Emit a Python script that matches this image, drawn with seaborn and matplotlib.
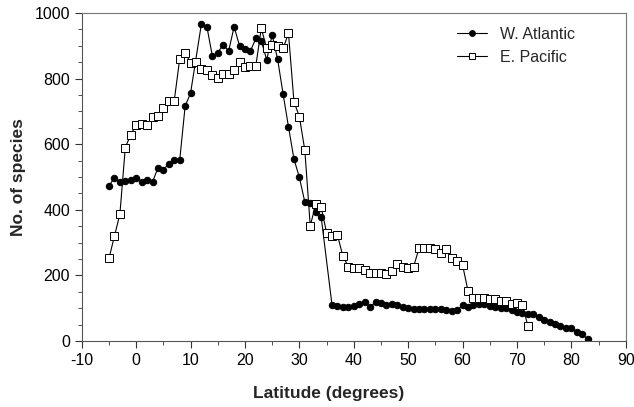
"""Species richness by latitude: W. Atlantic vs E. Pacific"""
import pandas as pd
import seaborn as sns
from matplotlib import pyplot as plt
from matplotlib.ticker import MultipleLocator

# W. Atlantic (filled circles)
atl_lat = [-5, -4, -3, -2, -1, 0, 1, 2, 3, 4, 5, 6, 7, 8, 9, 10,
           12, 13, 14, 15, 16, 17, 18, 19, 20, 21, 22, 23, 24, 25, 26,
           27, 28, 29, 30, 31, 32, 33, 34, 36, 37, 38, 39, 40, 41, 42,
           43, 44, 45, 46, 47, 48, 49, 50, 51, 52, 53, 54, 55, 56, 57,
           58, 59, 60, 61, 62, 63, 64, 65, 66, 67, 68, 69, 70, 71, 72,
           73, 74, 75, 76, 77, 78, 79, 80, 81, 82, 83]
atl_species = [473, 498, 485, 488, 490, 498, 485, 490, 485, 528, 523, 540,
               551, 551, 716, 756, 968, 958, 869, 879, 904, 884, 958, 900,
               889, 884, 923, 915, 857, 934, 859, 754, 653, 555, 499, 424,
               420, 394, 379, 110, 108, 105, 105, 108, 112, 120, 105, 118,
               117, 110, 112, 110, 105, 102, 97, 97, 97, 97, 97, 97, 95,
               92, 95, 109, 103, 109, 113, 113, 107, 103, 100, 100, 95, 89,
               86, 84, 81, 72, 64, 59, 51, 46, 39, 39, 27, 21, 6]

# E. Pacific (open squares)
pac_lat = list(range(-5, 73))
pac_species = [252, 320, 386, 590, 629, 658, 662, 660, 684, 687, 709, 733,
               733, 860, 879, 848, 851, 829, 826, 811, 802, 814, 814, 826,
               852, 834, 840, 840, 953, 892, 904, 899, 892, 938, 730, 684,
               582, 351, 417, 410, 330, 321, 323, 259, 227, 224, 224, 218,
               206, 206, 206, 203, 214, 235, 227, 222, 227, 283, 283, 283,
               280, 269, 280, 252, 245, 232, 153, 130, 130, 130, 127, 127,
               122, 122, 113, 117, 109, 47]

atl = pd.DataFrame({"lat": atl_lat, "species": atl_species})
pac = pd.DataFrame({"lat": pac_lat, "species": pac_species})

sns.set_style("ticks")
plt.rcParams["font.family"] = ["Liberation Sans", "DejaVu Sans"]
plt.rcParams["axes.unicode_minus"] = False

fig = plt.figure(figsize=(6.34, 4.07), dpi=100)
ax = fig.add_axes([0.129, 0.162, 0.858, 0.806])

sns.lineplot(data=atl, x="lat", y="species", ax=ax, color="black",
             linewidth=0.8, marker="o", markersize=4.6, markerfacecolor="black",
             markeredgecolor="black", label="W. Atlantic")
sns.lineplot(data=pac, x="lat", y="species", ax=ax, color="black",
             linewidth=0.8, marker="s", markersize=5.2, markerfacecolor="white",
             markeredgecolor="black", markeredgewidth=0.7, label="E. Pacific")

ax.set_xlim(-10, 90)
ax.set_ylim(0, 1000)
ax.xaxis.set_major_locator(MultipleLocator(10))
ax.xaxis.set_minor_locator(MultipleLocator(5))
ax.yaxis.set_major_locator(MultipleLocator(200))
ax.yaxis.set_minor_locator(MultipleLocator(50))
ax.tick_params(which="major", length=5, width=0.8, colors="#333333",
               labelsize=11.5, labelcolor="black")
ax.tick_params(which="minor", length=3, width=0.6, colors="#333333")

for side in ["left", "bottom"]:
    ax.spines[side].set_color("#555555")
    ax.spines[side].set_linewidth(0.8)
for side in ["top", "right"]:
    ax.spines[side].set_visible(True)
    ax.spines[side].set_color("#777777")
    ax.spines[side].set_linewidth(0.8)

ax.set_xlabel("Latitude (degrees)", fontsize=12.5, fontweight="bold")
ax.set_ylabel("No. of species", fontsize=12.5, fontweight="bold")
ax.xaxis.set_label_coords(0.454, -0.159)
ax.yaxis.set_label_coords(-0.117, 0.5)
ax.xaxis.label.set_verticalalignment("center")
ax.yaxis.label.set_verticalalignment("center")

ax.legend(loc="upper right", bbox_to_anchor=(0.933, 1.002), frameon=False,
          fontsize=11.5, handlelength=1.9, labelspacing=0.5, markerscale=0.9)

fig.savefig("out.png", dpi=100)
